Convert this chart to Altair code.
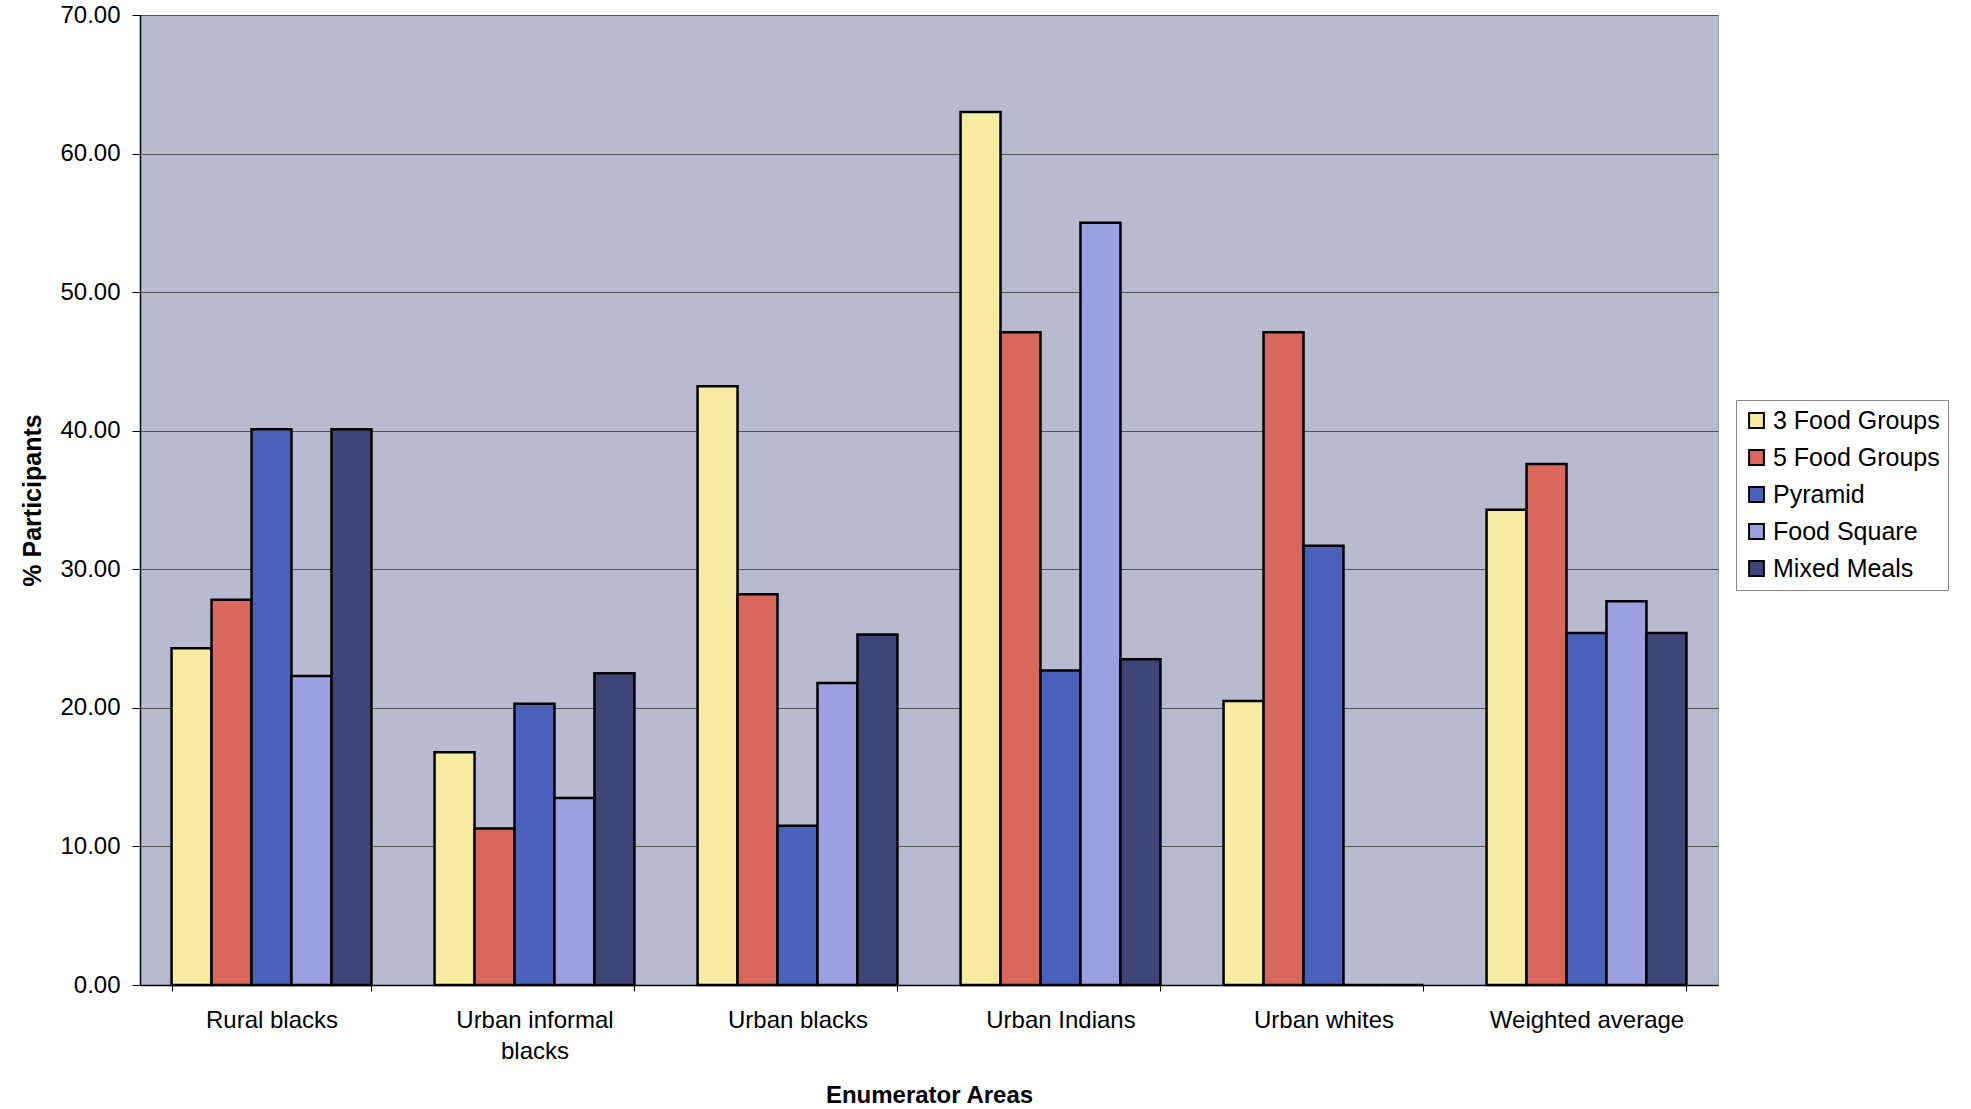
import altair as alt
import pandas as pd

areas = ["Rural blacks", "Urban informal blacks", "Urban blacks", "Urban Indians",
         "Urban whites", "Weighted average"]
series = ["3 Food Groups", "5 Food Groups", "Pyramid", "Food Square", "Mixed Meals"]
colors = ["#F6EBA0", "#D9675E", "#4A62BC", "#9C9FE0", "#404578"]

three_food_groups = [24.3, 16.8, 43.2, 63.0, 20.5, 34.3]
five_food_groups = [27.8, 11.3, 28.2, 47.1, 47.1, 37.6]
pyramid = [40.1, 20.3, 11.5, 22.7, 31.7, 25.4]
food_square = [22.3, 13.5, 21.8, 55.0, 0.0, 27.7]
mixed_meals = [40.1, 22.5, 25.3, 23.5, 0.0, 25.4]

values = [three_food_groups, five_food_groups, pyramid, food_square, mixed_meals]
rows = []
for s, vals in zip(series, values):
    for a, v in zip(areas, vals):
        rows.append({"area": a, "series": s, "value": v})
df = pd.DataFrame(rows)

FONT = "Liberation Sans"

chart = alt.Chart(df).mark_bar(stroke="black", strokeWidth=2.5).encode(
    x=alt.X("area:N", sort=areas, title="Enumerator Areas",
            scale=alt.Scale(paddingInner=0.24, paddingOuter=0.12),
            axis=alt.Axis(labelAngle=0, labelFontSize=24, labelColor="black",
                          labelFont=FONT, labelPadding=17, labelLimit=0,
                          tickBand="extent",
                          tickColor="black", tickSize=6, domainColor="black",
                          domainWidth=1.5, titleFontSize=24, titleFont=FONT,
                          titleFontWeight="bold", titlePadding=20,
                          titleColor="black",
                          labelExpr="datum.label == 'Urban informal blacks' ? ['Urban informal', 'blacks'] : datum.label",
                          labelLineHeight=31)),
    xOffset=alt.XOffset("series:N", sort=series),
    y=alt.Y("value:Q", title="% Participants",
            scale=alt.Scale(domain=[0, 70]),
            axis=alt.Axis(values=[0, 10, 20, 30, 40, 50, 60, 70], format=".2f",
                          labelFontSize=24, labelColor="black", labelFont=FONT,
                          labelPadding=12, tickColor="black", tickSize=8,
                          domainColor="black", domainWidth=1.5,
                          gridColor="#555555", gridWidth=1,
                          titleFontSize=25, titleFont=FONT, titleFontWeight="bold",
                          titleColor="black", titlePadding=14)),
    color=alt.Color("series:N", sort=series,
                    scale=alt.Scale(domain=series, range=colors),
                    legend=alt.Legend(title=None, orient="none", legendX=1596,
                                      legendY=385, labelFontSize=25, labelFont=FONT,
                                      labelColor="black", labelLimit=0,
                                      symbolType="square",
                                      symbolSize=220, symbolStrokeColor="black",
                                      symbolStrokeWidth=2, rowPadding=11,
                                      strokeColor="#888888", fillColor="white",
                                      padding=8, labelOffset=4)),
).properties(
    width=1578, height=970,
    autosize=alt.AutoSizeParams(type="none"),
    padding={"left": 140, "top": 15, "right": 253, "bottom": 124},
    background="white",
).configure_view(
    fill="#B8BBD0", stroke="#999999", strokeWidth=1
)

chart.save("out.html", embed_options={"renderer": "svg", "actions": False})
